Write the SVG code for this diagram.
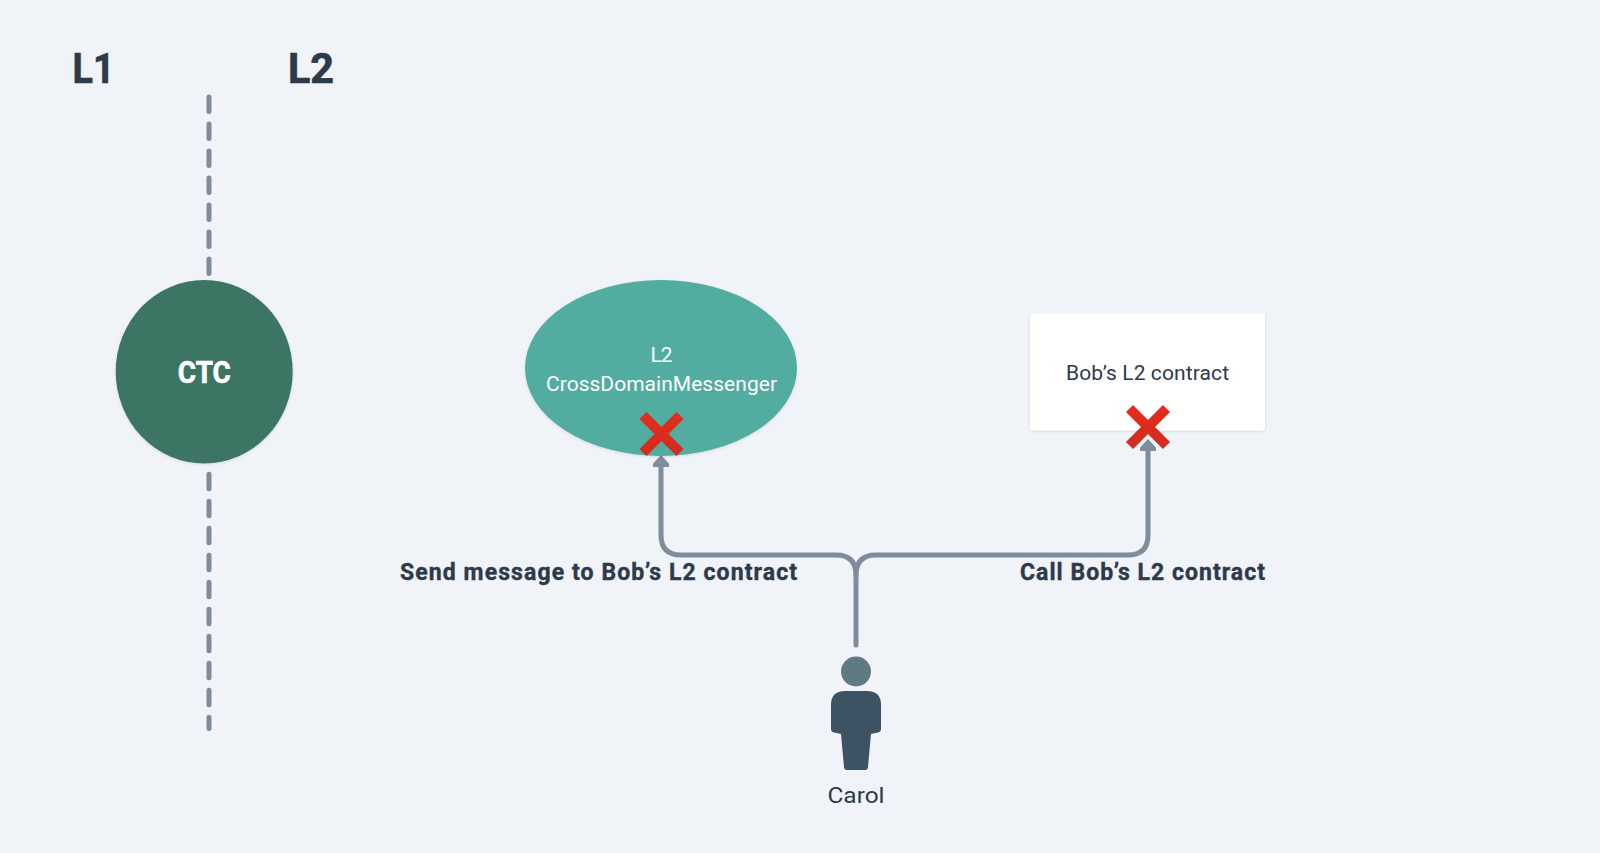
<svg xmlns="http://www.w3.org/2000/svg" width="1600" height="853" viewBox="0 0 1600 853">
<defs>
<filter id="sh" x="-10%" y="-10%" width="120%" height="120%"><feDropShadow dx="0" dy="1" stdDeviation="1.5" flood-color="#000" flood-opacity="0.1"/></filter>
<linearGradient id="xg" x1="0" y1="0" x2="0" y2="1"><stop offset="0" stop-color="#e32d1f"/><stop offset="1" stop-color="#d22c1e"/></linearGradient>
</defs>
<style>
text{font-family:Roboto,"Noto Sans",sans-serif;fill:#2c3a4a;text-anchor:middle}
.h{font-size:42px;font-weight:700;stroke:#2c3a4a;stroke-width:.7}
.b{font-size:23px;font-weight:700;stroke:#2c3a4a;stroke-width:.4}
.n{font-size:21px}
.w{fill:#fff}
.c{fill:none;stroke:#7f8c9b;stroke-width:5;stroke-linecap:round}
.d{fill:none;stroke:#7f8c9b;stroke-width:5;stroke-dasharray:14.5 12.5;stroke-linecap:round}
.x{stroke:url(#xg);stroke-width:10;fill:none}
.a{fill:#7f8c9b}
</style>
<rect width="1600" height="853" fill="#f0f3f7"/>
<g id="labels">
<text class="h" x="93.500" y="82.500" textLength="42" lengthAdjust="spacingAndGlyphs">L1</text>
<text class="h" x="311" y="82.500" textLength="46" lengthAdjust="spacingAndGlyphs">L2</text>
<text class="b" x="598.500" y="580" textLength="397">Send message to Bob’s L2 contract</text>
<text class="b" x="1142.500" y="580" textLength="245">Call Bob’s L2 contract</text>
</g>
<g id="connectors">
<path class="d" d="M209 97V275"/>
<path class="d" d="M209 474.200V728.500"/>
<path class="c" d="M856 645V575Q856 555 836 555H681Q661 555 661 535V464"/>
<path class="c" d="M856 575Q856 555 876 555H1128Q1148 555 1148 535V449"/>
<path class="a" d="M661 455L669 463.500V467H653V463.500Z"/>
<path class="a" d="M1148 439L1156 447.500V451H1140V447.500Z"/>
</g>
<g id="ctc"><ellipse cx="204.200" cy="371.700" rx="88.500" ry="91.700" fill="#3c7565" filter="url(#sh)"/><text class="b w" x="204.300" y="382.700" style="font-size:31px;stroke:#fff;stroke-width:.6" textLength="53" lengthAdjust="spacingAndGlyphs">CTC</text></g>
<g id="messenger"><ellipse cx="661" cy="368" rx="136" ry="88" fill="#52aca0" filter="url(#sh)"/><text class="n w" x="661.500" y="361.500" textLength="22">L2</text><text class="n w" x="661.500" y="390.500" textLength="231">CrossDomainMessenger</text><path class="x" d="M643 415.500L680 452.500M680 415.500L643 452.500"/></g>
<g id="bob"><rect x="1030" y="313.500" width="235" height="117" rx="3" fill="#fff" filter="url(#sh)"/><text class="n" x="1147.500" y="380" textLength="163">Bob’s L2 contract</text><path class="x" d="M1129.500 408.500L1166.500 445.500M1166.500 408.500L1129.500 445.500"/></g>
<g id="carol"><circle cx="856" cy="671.500" r="15" fill="#607a84"/><path d="M845 691H867Q881 691 881 705V729Q881 732 878 732.500L871 734L868 767Q868 770 865 770H847Q844 770 844 767L841 734L834 732.500Q831 732 831 729V705Q831 691 845 691Z" fill="#3d5363"/><text class="n" x="856" y="803" style="font-size:22px" textLength="57" lengthAdjust="spacingAndGlyphs">Carol</text></g>
</svg>
